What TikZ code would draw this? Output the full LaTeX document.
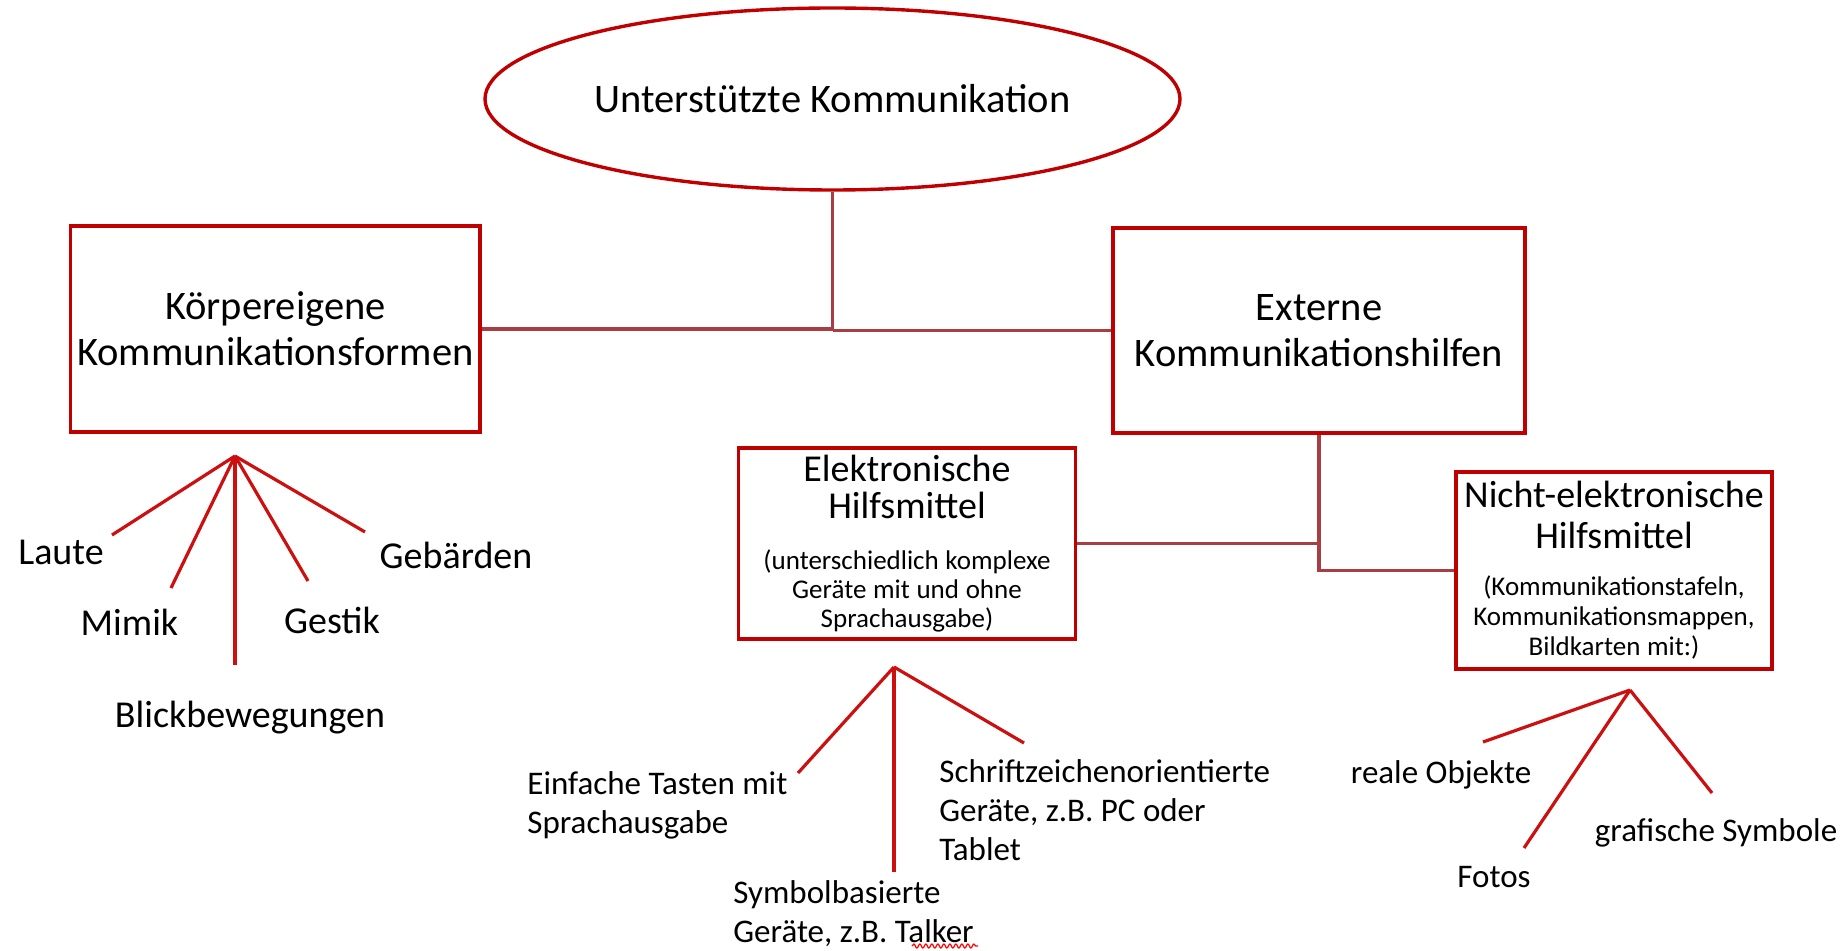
\documentclass[tikz,border=0pt]{standalone}
\usepackage{fontspec}
\setmainfont{Carlito}
\usetikzlibrary{shapes.geometric,decorations.pathmorphing}
\definecolor{boxred}{RGB}{192,0,0}
\definecolor{fanred}{RGB}{204,16,16}
\definecolor{connred}{RGB}{168,62,68}
\begin{document}
\begin{tikzpicture}[x=0.5pt,y=-0.5pt,
  boxnode/.style={draw=boxred, line width=1.8pt, rectangle, inner sep=0pt, align=center},
  fanline/.style={draw=fanred, line width=1.6pt},
  connline/.style={draw=connred, line width=1.6pt},
  biglabel/.style={font=\fontsize{19}{22}\selectfont, inner sep=0pt},
  midlabel/.style={font=\fontsize{16.5}{19.5}\selectfont, inner sep=0pt, align=left, anchor=west},
]
\useasboundingbox (0,0) rectangle (1845,951);

% top ellipse
\node[ellipse, draw=boxred, line width=1.7pt, minimum width=347.5pt, minimum height=91pt,
      inner sep=0pt, font=\fontsize{20.25}{24}\selectfont] (top) at (832.5,99) {Unterstützte Kommunikation};

% main boxes
\node[boxnode, minimum width=204.75pt, minimum height=103pt, font=\fontsize{20.25}{23}\selectfont]
  (left) at (275.3,329) {Körpereigene\\Kommunikationsformen};
\node[boxnode, minimum width=206pt, minimum height=102.5pt, font=\fontsize{20.25}{23}\selectfont]
  (right) at (1319,330.5) {Externe\\Kommunikationshilfen};

\node[boxnode, minimum width=168.5pt, minimum height=95.5pt, text width=166pt]
  (elek) at (907,543.5) {{\fontsize{19}{18.5}\selectfont Elektronische\\Hilfsmittel\par}\vspace{11pt}%
  {\fontsize{13.5}{14.6}\selectfont (unterschiedlich komplexe\\Geräte mit und ohne\\Sprachausgabe)\par}};
\node[boxnode, minimum width=158pt, minimum height=98.5pt, text width=156pt]
  (nicht) at (1614,570.5) {{\fontsize{19}{20.5}\selectfont Nicht-elektronische\\Hilfsmittel\par}\vspace{8pt}%
  {\fontsize{13.5}{15.2}\selectfont (Kommunikationstafeln,\\Kommunikationsmappen,\\Bildkarten mit:)\par}};

% connectors
\draw[connline] (top.south) -- (top.south |- right.west);
\draw[connline] (left.east) -- (left.east -| top.south);
\draw[connline] (top.south |- right.west) -- (right.west);
\draw[connline] (right.south) -- (right.south |- nicht.west) -- (nicht.west);
\draw[connline] (elek.east) -- (elek.east -| right.south);

% left fan
\coordinate (fa) at (235,456);
\coordinate (fa1) at (112,535);
\coordinate (fa2) at (171,588);
\coordinate (fa3) at (235,665);
\coordinate (fa4) at (308,581);
\coordinate (fa5) at (365,532);
\foreach \e in {fa1,fa2,fa3,fa4,fa5} \draw[fanline] (fa) -- (\e);
\node[biglabel] (laute) at (61,552) {Laute};
\node[biglabel] (gebaerden) at (456,555) {Gebärden};
\node[biglabel] (mimik) at (129.5,622) {Mimik};
\node[biglabel] (gestik) at (332,620) {Gestik};
\node[biglabel] (blick) at (250,718) {Blickbewegungen};

% middle fan
\coordinate (fb) at (894,667);
\coordinate (fb1) at (798,773);
\coordinate (fb2) at (894,872);
\coordinate (fb3) at (1024,743);
\foreach \e in {fb1,fb2,fb3} \draw[fanline] (fb) -- (\e);
\node[midlabel] (einfache) at (527,805) {Einfache Tasten mit\\Sprachausgabe};
\node[midlabel] (schrift) at (939,810) {Schriftzeichenorientierte\\Geräte, z.B. PC oder\\Tablet};
\node[midlabel] (symbol) at (733,914) {Symbolbasierte\\Geräte, z.B. Talker};
\draw[red, line width=0.6pt, decorate, decoration={snake, amplitude=1pt, segment length=3pt}]
  (912,946) -- (978,946);

% right fan
\coordinate (fc) at (1630,690);
\coordinate (fc1) at (1483,742);
\coordinate (fc2) at (1524,848);
\coordinate (fc3) at (1712,793);
\foreach \e in {fc1,fc2,fc3} \draw[fanline] (fc) -- (\e);
\node[biglabel, font=\fontsize{16.5}{19.5}\selectfont] (reale) at (1441,775) {reale Objekte};
\node[biglabel, font=\fontsize{16.5}{19.5}\selectfont] (grafisch) at (1716,833) {grafische Symbole};
\node[biglabel, font=\fontsize{16.5}{19.5}\selectfont] (fotos) at (1494,877) {Fotos};
\end{tikzpicture}
\end{document}
